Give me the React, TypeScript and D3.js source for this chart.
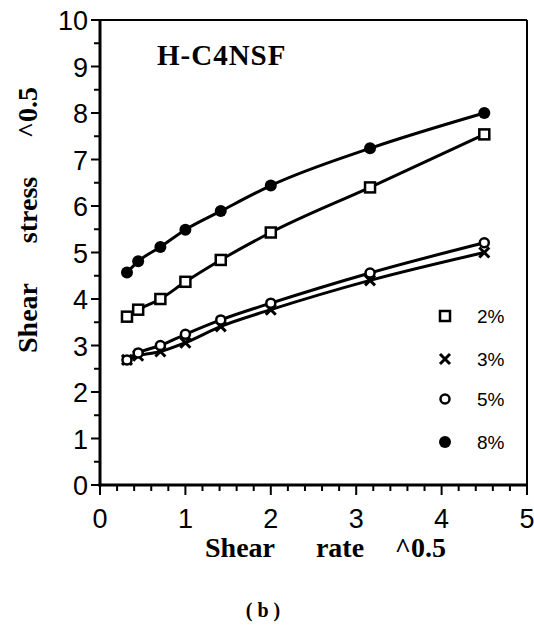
import React from "react";
import * as d3 from "d3";

const shearRate = [0.316, 0.447, 0.707, 1.0, 1.414, 2.0, 3.162, 4.5];
const series2 = [3.62, 3.77, 4.0, 4.37, 4.84, 5.43, 6.4, 7.54];
const series3 = [2.69, 2.78, 2.87, 3.06, 3.41, 3.77, 4.4, 5.0];
const series5 = [2.69, 2.84, 3.0, 3.24, 3.55, 3.91, 4.56, 5.21];
const series8 = [4.57, 4.81, 5.12, 5.49, 5.89, 6.44, 7.24, 8.0];
const seriesNames = ["2%", "3%", "5%", "8%"];
const xTicks = [0, 1, 2, 3, 4, 5];
const yTicks = [0, 1, 2, 3, 4, 5, 6, 7, 8, 9, 10];

const W = 534, H = 627;
const L = 100, R = 527, T = 20, B = 485;

export default function App() {
  const x = d3.scaleLinear().domain([0, 5]).range([L, R]);
  const y = d3.scaleLinear().domain([0, 10]).range([B, T]);
  const line = d3.line<number>().x((_, i) => x(shearRate[i])).y((d) => y(d)).curve(d3.curveMonotoneX);
  const all = [series2, series3, series5, series8];
  const xMinor = d3.range(0, 5.001, 0.2);
  const yMinor = d3.range(0, 10.001, 0.5);

  const marker = (k: number, cx: number, cy: number, key: string) => {
    if (k === 0) return <rect key={key} x={cx - 5} y={cy - 5} width={10} height={10} fill="white" stroke="black" strokeWidth={2.5} />;
    if (k === 1) return <path key={key} d={`M${cx - 5},${cy - 5}L${cx + 5},${cy + 5}M${cx - 5},${cy + 5}L${cx + 5},${cy - 5}`} stroke="black" strokeWidth={3} />;
    if (k === 2) return <circle key={key} cx={cx} cy={cy} r={4.5} fill="white" stroke="black" strokeWidth={2.5} />;
    return <circle key={key} cx={cx} cy={cy} r={6} fill="black" />;
  };

  const legendY = [316, 359, 399, 442];
  const sans = "'Liberation Sans', Arial, sans-serif";
  const serif = "'Liberation Serif', 'Times New Roman', serif";

  return (
    <svg width={W} height={H} style={{ position: "absolute", left: 0, top: 0, background: "white" }}>
      <rect x={0} y={0} width={W} height={H} fill="white" />
      {/* frame */}
      <line x1={L} y1={T} x2={R} y2={T} stroke="black" strokeWidth={2} />
      <line x1={R} y1={T} x2={R} y2={B} stroke="black" strokeWidth={2} />
      <line x1={L} y1={T - 1} x2={L} y2={B + 1.5} stroke="black" strokeWidth={3} />
      <line x1={L - 1.5} y1={B} x2={R + 1} y2={B} stroke="black" strokeWidth={3} />
      {/* ticks */}
      {xMinor.map((v, i) => (
        <line key={"xm" + i} x1={x(v)} x2={x(v)} y1={B} y2={B + (i % 5 === 0 ? 10 : 6)} stroke="black" strokeWidth={2} />
      ))}
      {yMinor.map((v, i) => (
        <line key={"ym" + i} x1={L} x2={L - (i % 2 === 0 ? 9 : 6)} y1={y(v)} y2={y(v)} stroke="black" strokeWidth={2} />
      ))}
      {xTicks.map((v) => (
        <text key={"xt" + v} x={x(v)} y={528} textAnchor="middle" fontFamily={sans} fontSize={27}>{v}</text>
      ))}
      {yTicks.map((v) => (
        <text key={"yt" + v} x={88} y={y(v) + 10} textAnchor="end" fontFamily={sans} fontSize={27}>{v}</text>
      ))}
      {/* lines */}
      {all.map((s, k) => (
        <path key={"l" + k} d={line(s) || ""} fill="none" stroke="black" strokeWidth={3} />
      ))}
      {all.map((s, k) => s.map((v, i) => marker(k, x(shearRate[i]), y(v), `m${k}-${i}`)))}
      {/* legend */}
      {seriesNames.map((n, k) => (
        <g key={"lg" + k}>
          {marker(k, 445, legendY[k], "lgm" + k)}
          <text x={477} y={legendY[k] + 7} fontFamily={sans} fontSize={19}>{n}</text>
        </g>
      ))}
      <text x={157} y={65} fontFamily={serif} fontWeight="bold" fontSize={29} letterSpacing={1}>H-C4NSF</text>
      {/* x title */}
      <g fontFamily={serif} fontWeight="bold" fontSize={28}>
        <text x={205} y={557}>Shear</text>
        <text x={340} y={557} textAnchor="middle">rate</text>
        <text x={446} y={557} textAnchor="end">^0.5</text>
      </g>
      {/* y title */}
      <g transform="translate(37,0) rotate(-90)" fontFamily={serif} fontWeight="bold" fontSize={28}>
        <text x={-353} y={0}>Shear</text>
        <text x={-210} y={0} textAnchor="middle">stress</text>
        <text x={-87} y={0} textAnchor="end">^0.5</text>
      </g>
      <text x={263} y={617} textAnchor="middle" fontFamily={serif} fontWeight="bold" fontSize={20} style={{ whiteSpace: "pre" }}>{"( b )"}</text>
    </svg>
  );
}
